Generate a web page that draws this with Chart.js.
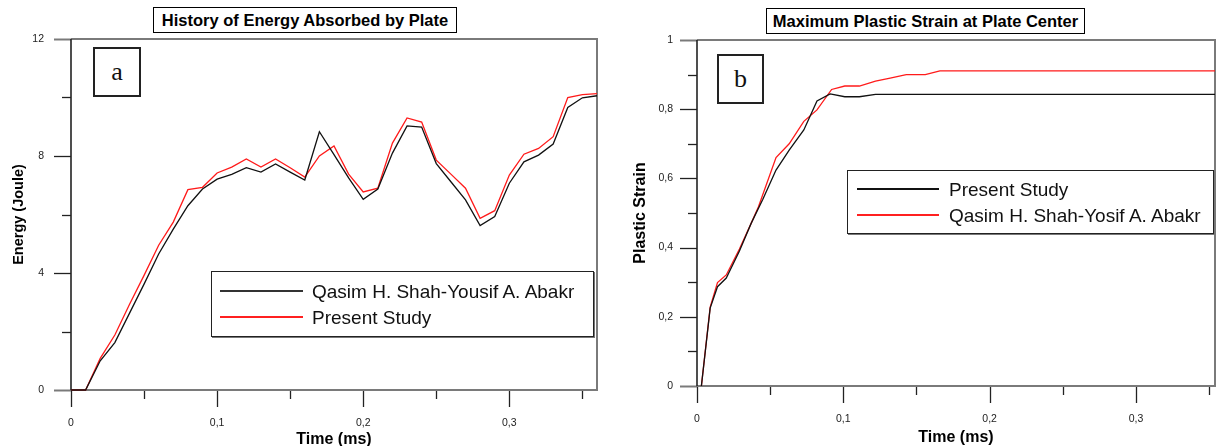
<!DOCTYPE html>
<html>
<head>
<meta charset="utf-8">
<script src="https://cdn.jsdelivr.net/npm/chart.js@4.4.1/dist/chart.umd.min.js"></script>
<style>
  html, body { margin: 0; padding: 0; background: #fff; }
  #wrap { position: relative; width: 1218px; height: 446px; overflow: hidden; background: #fff; }
  canvas { position: absolute; top: 0; }
  .tbox { position: absolute; box-sizing: border-box; border: 1px solid #000; background: #fff;
          font: bold 16.5px "Liberation Sans", Arial, sans-serif; color: #000;
          display: flex; align-items: center; justify-content: center; white-space: nowrap; }
  .lbox { position: absolute; box-sizing: border-box; border: 2px solid #222; background: #fff;
          font: 26px "Liberation Serif", "Times New Roman", serif; color: #111;
          display: flex; align-items: center; justify-content: center; }
  .legend { position: absolute; box-sizing: border-box; border: 1px solid #222; background: #fff;
            box-shadow: 1px 1px 0 #777; }
  .lline { position: absolute; height: 2px; }
  .ltext { position: absolute; font: 19px "Liberation Sans", Arial, sans-serif; color: #111;
           white-space: nowrap; transform: translateY(-50%); line-height: 1; }
</style>
</head>
<body>
<div id="wrap">
  <canvas id="c1" width="600" height="446" style="left:0px"></canvas>
  <canvas id="c2" width="618" height="446" style="left:600px"></canvas>
  <div class="tbox" id="t1" style="left:153px;top:7px;width:304px;height:26px;"></div>
  <div class="tbox" id="t2" style="left:766px;top:8px;width:319px;height:26px;"></div>
  <div class="lbox" style="left:93px;top:47px;width:48px;height:50px;">a</div>
  <div class="lbox" style="left:717px;top:54px;width:47px;height:50px;">b</div>
  <div class="legend" id="leg1" style="left:211px;top:271px;width:383px;height:66px;"></div>
  <div class="legend" id="leg2" style="left:847px;top:170px;width:367px;height:64px;"></div>
</div>
<script>
// ---------- Chart (a): Energy absorbed ----------
const titleA = "History of Energy Absorbed by Plate";
const xTitleA = "Time (ms)";
const yTitleA = "Energy (Joule)";
const timeA = [0, 0.01, 0.02, 0.03, 0.04, 0.05, 0.06, 0.07, 0.08, 0.09, 0.10, 0.11, 0.12, 0.13, 0.14, 0.15, 0.16, 0.17, 0.18, 0.19, 0.20, 0.21, 0.22, 0.23, 0.24, 0.25, 0.26, 0.27, 0.28, 0.29, 0.30, 0.31, 0.32, 0.33, 0.34, 0.35, 0.36];
const qasimA = [0, 0, 1.0, 1.62, 2.62, 3.62, 4.65, 5.5, 6.3, 6.87, 7.21, 7.37, 7.6, 7.45, 7.73, 7.45, 7.18, 8.83, 8.05, 7.25, 6.52, 6.87, 8.1, 9.03, 8.99, 7.74, 7.12, 6.5, 5.62, 5.93, 7.07, 7.8, 8.03, 8.41, 9.66, 9.99, 10.06];
const presentA = [0, 0, 1.08, 1.88, 2.92, 3.92, 4.95, 5.74, 6.85, 6.93, 7.42, 7.62, 7.9, 7.62, 7.9, 7.6, 7.28, 8.0, 8.34, 7.38, 6.77, 6.9, 8.44, 9.3, 9.16, 7.86, 7.38, 6.9, 5.87, 6.13, 7.35, 8.06, 8.26, 8.66, 10.0, 10.1, 10.13];
const labelsA = ["Qasim H. Shah-Yousif A. Abakr", "Present Study"];
const yTicksA = [0, 4, 8, 12];
const xTicksA = [0, 0.1, 0.2, 0.3];

// ---------- Chart (b): Maximum plastic strain ----------
const titleB = "Maximum Plastic Strain at Plate Center";
const xTitleB = "Time (ms)";
const yTitleB = "Plastic Strain";
const timePresentB = [0.003, 0.009, 0.014, 0.020, 0.029, 0.037, 0.045, 0.054, 0.063, 0.073, 0.082, 0.091, 0.101, 0.111, 0.122, 0.354];
const strainPresentB = [0, 0.225, 0.287, 0.312, 0.39, 0.47, 0.54, 0.624, 0.682, 0.74, 0.824, 0.844, 0.836, 0.836, 0.843, 0.843];
const timeQasimB = [0.003, 0.009, 0.014, 0.020, 0.029, 0.037, 0.042, 0.054, 0.063, 0.073, 0.082, 0.092, 0.101, 0.111, 0.122, 0.132, 0.143, 0.156, 0.166, 0.354];
const strainQasimB = [0, 0.228, 0.299, 0.321, 0.396, 0.47, 0.518, 0.66, 0.70, 0.765, 0.798, 0.857, 0.867, 0.867, 0.881, 0.89, 0.90, 0.90, 0.911, 0.911];
const labelsB = ["Present Study", "Qasim H. Shah-Yosif A. Abakr"];
const yTicksB = [0, 0.2, 0.4, 0.6, 0.8, 1];
const xTicksB = [0, 0.1, 0.2, 0.3];

const FONT = '"Liberation Sans", Arial, sans-serif';
const BLACK = '#111';
const RED = '#ff1a1a';
Chart.defaults.font.family = FONT;
Chart.defaults.color = '#222';

function fmt(v) { return String(v).replace('.', ','); }
function isIn(list, v) { return list.some(t => Math.abs(t - v) < 1e-9); }
function toPts(xs, ys) { return xs.map((x, i) => ({ x: x, y: ys[i] })); }

const framePlugin = {
  id: 'frame',
  beforeDatasetsDraw(chart) {
    const { ctx, chartArea: a, scales } = chart;
    const x = scales.x, y = scales.y;
    ctx.save();
    y.ticks.forEach(t => {
      const py = Math.round(y.getPixelForValue(t.value)) + 0.5;
      const len = t.label !== '' ? 17 : 9;
      const edge = Math.abs(t.value - y.min) < 1e-9 || Math.abs(t.value - y.max) < 1e-9;
      ctx.strokeStyle = edge ? '#7a7a7a' : '#222';
      ctx.lineWidth = edge ? 2 : 1.3;
      ctx.beginPath(); ctx.moveTo(a.left - len, py); ctx.lineTo(a.left, py); ctx.stroke();
    });
    x.ticks.forEach(t => {
      const px = Math.round(x.getPixelForValue(t.value)) + 0.5;
      const len = t.label !== '' ? 17 : 9;
      ctx.strokeStyle = '#222'; ctx.lineWidth = 1.3;
      ctx.beginPath(); ctx.moveTo(px, a.bottom); ctx.lineTo(px, a.bottom + len); ctx.stroke();
    });
    ctx.strokeStyle = '#7a7a7a'; ctx.lineWidth = 2;
    ctx.beginPath();
    ctx.moveTo(a.left, a.top); ctx.lineTo(a.right, a.top); ctx.lineTo(a.right, a.bottom); ctx.lineTo(a.left, a.bottom);
    ctx.stroke();
    ctx.strokeStyle = '#222'; ctx.lineWidth = 1.6;
    ctx.beginPath(); ctx.moveTo(a.left, a.top); ctx.lineTo(a.left, a.bottom); ctx.stroke();
    ctx.restore();
  }
};

function makeChart(id, cfg) {
  return new Chart(document.getElementById(id), {
    type: 'line',
    data: { datasets: cfg.datasets },
    options: {
      responsive: false, animation: false, devicePixelRatio: 1,
      layout: { padding: { left: 0, top: cfg.top, right: 3, bottom: 0 } },
      plugins: { legend: { display: false }, tooltip: { enabled: false }, title: { display: false } },
      elements: { point: { radius: 0 }, line: { tension: 0, borderWidth: 1.3 } },
      scales: {
        x: {
          type: 'linear', min: 0, max: cfg.xMax,
          grid: { display: false, drawTicks: false }, border: { display: false },
          ticks: { stepSize: 0.05, includeBounds: false, autoSkip: false, maxRotation: 0,
                   padding: cfg.xPad, font: { size: 10.5 }, color: '#222',
                   callback: v => isIn(cfg.xTicks, v) ? fmt(Math.round(v * 100) / 100) : '' },
          title: { display: true, text: cfg.xTitle, font: { size: 16, weight: 'bold', lineHeight: 1 },
                   color: '#000', padding: { top: 0, bottom: cfg.xTitlePad } },
          afterFit: s => { s.height = cfg.xH; s.paddingLeft = 0; s.paddingRight = 0; }
        },
        y: {
          type: 'linear', min: 0, max: cfg.yMax,
          grid: { display: false, drawTicks: false }, border: { display: false },
          ticks: { stepSize: cfg.yStep, includeBounds: false, autoSkip: false,
                   padding: cfg.yPad, font: { size: 10.5 }, color: '#222',
                   callback: v => isIn(cfg.yTicks, v) ? fmt(Math.round(v * 100) / 100) : '' },
          title: { display: true, text: cfg.yTitle, font: { size: cfg.yTitleSize, weight: 'bold', lineHeight: 1.2 },
                   color: '#000', padding: { top: cfg.yTitlePad, bottom: 0 } },
          afterFit: s => { s.width = cfg.yW; s.paddingTop = 0; s.paddingBottom = 0; }
        }
      }
    },
    plugins: [framePlugin]
  });
}

makeChart('c1', {
  top: 39, xMax: 0.36, yMax: 12, yStep: 2, xTicks: xTicksA, yTicks: yTicksA,
  xTitle: xTitleA, yTitle: yTitleA, xH: 56, yW: 71, xPad: 27, yPad: 27,
  xTitlePad: -2, yTitlePad: 10, yTitleSize: 14.5,
  datasets: [
    { label: labelsA[0], data: toPts(timeA, qasimA), borderColor: BLACK, backgroundColor: BLACK, clip: 3 },
    { label: labelsA[1], data: toPts(timeA, presentA), borderColor: RED, backgroundColor: RED, clip: 3 }
  ]
});

makeChart('c2', {
  top: 40, xMax: 0.354, yMax: 1, yStep: 0.1, xTicks: xTicksB, yTicks: yTicksB,
  xTitle: xTitleB, yTitle: yTitleB, xH: 60, yW: 97, xPad: 27, yPad: 24,
  xTitlePad: 0, yTitlePad: 31, yTitleSize: 16,
  datasets: [
    { label: labelsB[0], data: toPts(timePresentB, strainPresentB), borderColor: BLACK, backgroundColor: BLACK, clip: 3 },
    { label: labelsB[1], data: toPts(timeQasimB, strainQasimB), borderColor: RED, backgroundColor: RED, clip: 3 }
  ]
});

document.getElementById('t1').textContent = titleA;
document.getElementById('t2').textContent = titleB;

function buildLegend(id, labels, colors, rows, lineX0, lineX1, textX) {
  const box = document.getElementById(id);
  labels.forEach((lab, i) => {
    const ln = document.createElement('div');
    ln.className = 'lline';
    ln.style.left = lineX0 + 'px'; ln.style.width = (lineX1 - lineX0) + 'px';
    ln.style.top = rows[i] + 'px'; ln.style.background = colors[i];
    box.appendChild(ln);
    const tx = document.createElement('div');
    tx.className = 'ltext';
    tx.style.left = textX + 'px'; tx.style.top = (rows[i] + 1) + 'px';
    tx.textContent = lab;
    box.appendChild(tx);
  });
}
// positions relative to each legend box
buildLegend('leg1', labelsA, ['#333', '#ff2020'], [18, 44], 8, 91, 100);
buildLegend('leg2', labelsB, ['#111', '#ff2020'], [17, 43], 9, 91, 101);
</script>
</body>
</html>
